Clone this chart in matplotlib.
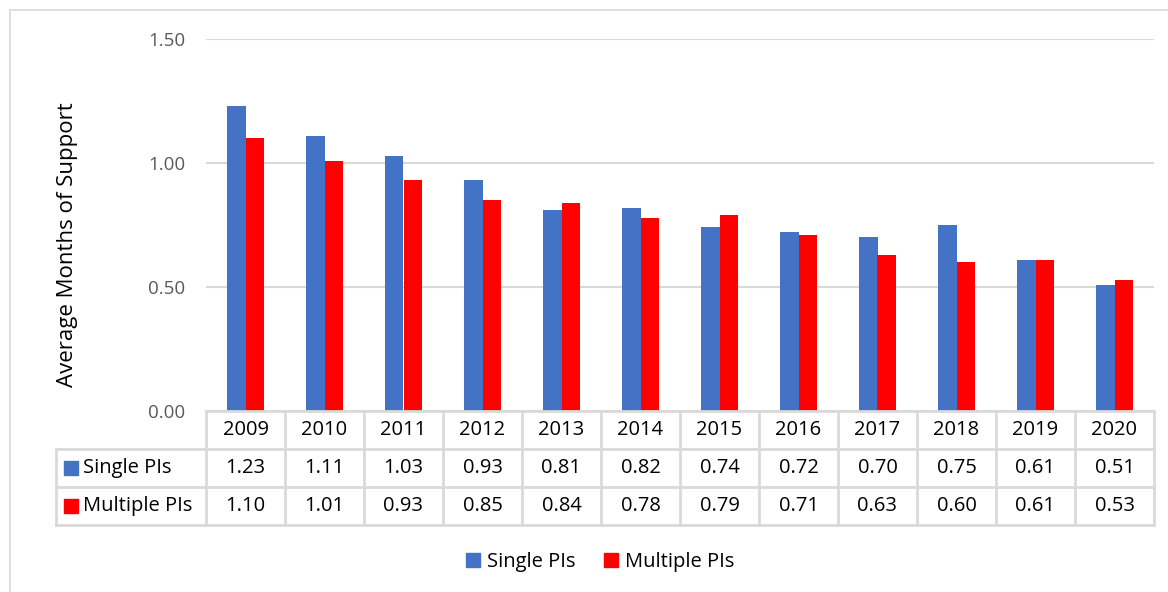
import matplotlib
matplotlib.use("Agg")
import matplotlib.pyplot as plt
from matplotlib.patches import Patch, Rectangle
from matplotlib.lines import Line2D

years = ["2009", "2010", "2011", "2012", "2013", "2014", "2015", "2016", "2017", "2018", "2019", "2020"]
single_pis = [1.23, 1.11, 1.03, 0.93, 0.81, 0.82, 0.74, 0.72, 0.70, 0.75, 0.61, 0.51]
multiple_pis = [1.10, 1.01, 0.93, 0.85, 0.84, 0.78, 0.79, 0.71, 0.63, 0.60, 0.61, 0.53]
series_names = ["Single PIs", "Multiple PIs"]
yticks = [0.0, 0.5, 1.0, 1.5]

BLUE = "#4472C4"
RED = "#FF0000"
GRID = "#D9D9D9"
FONT = ["Open Sans", "DejaVu Sans"]
plt.rcParams["font.family"] = FONT

W, H = 1168, 592
fig = plt.figure(figsize=(W / 100, H / 100), dpi=100)

def fx(px):
    return px / W

def fy(py):
    return 1 - py / H

# chart border
fig.add_artist(Rectangle((fx(10), fy(600)), fx(1200), fy(10) - fy(600),
                         transform=fig.transFigure, fill=False, edgecolor="#D9D9D9", lw=1.2))

L, R = 206, 1154
ax = fig.add_axes([fx(L), fy(411), fx(R) - fx(L), fy(39) - fy(411)])
n = len(years)
x = list(range(n))
bw = 0.24
ax.bar([i - bw / 2 for i in x], single_pis, width=bw, color=BLUE, zorder=3)
ax.bar([i + bw / 2 for i in x], multiple_pis, width=bw, color=RED, zorder=3)
ax.set_xlim(-0.5, n - 0.5)
ax.set_ylim(0, 1.5)
ax.set_yticks(yticks)
ax.set_yticklabels([f"{v:.2f}" for v in yticks], fontsize=13.5, color="#595959")
ax.tick_params(axis="y", length=0, pad=15)
ax.set_xticks([])
for s in ax.spines.values():
    s.set_visible(False)
ax.yaxis.grid(True, color=GRID, lw=1.5, zorder=0)
ax.set_axisbelow(True)

fig.text(fx(68), fy(245), "Average Months of Support", rotation=90,
         ha="center", va="center", fontsize=16, color="black")

# data table
tab = fig.add_axes([fx(L), fy(525), fx(R) - fx(L), fy(411) - fy(525)])
tab.set_xlim(-0.5, n - 0.5)
tab.set_ylim(0, 3)
tab.axis("off")
lab_left = -0.5 - (L - 56) / ((R - L) / n)
lc = "#D9D9D9"
lw = 2
# horizontal lines
tab.add_line(Line2D([-0.5, n - 0.5], [3, 3], color=lc, lw=lw, clip_on=False))
for yy in [0, 1, 2]:
    tab.add_line(Line2D([lab_left, n - 0.5], [yy, yy], color=lc, lw=lw, clip_on=False))
# vertical lines
for i in range(n + 1):
    tab.add_line(Line2D([i - 0.5, i - 0.5], [0, 3], color=lc, lw=lw, clip_on=False))
tab.add_line(Line2D([lab_left, lab_left], [0, 2], color=lc, lw=lw, clip_on=False))

fs = 14.5
for i, yr in enumerate(years):
    tab.text(i, 2.5, yr, ha="center", va="center", fontsize=fs, color="black")
    tab.text(i, 1.5, f"{single_pis[i]:.2f}", ha="center", va="center", fontsize=fs, color="black")
    tab.text(i, 0.5, f"{multiple_pis[i]:.2f}", ha="center", va="center", fontsize=fs, color="black")

colw = (R - L) / n
for row_y, name, col in [(1.5, series_names[0], BLUE), (0.5, series_names[1], RED)]:
    sq = 14 / colw
    tab.add_patch(Rectangle((lab_left + 8 / colw, row_y - 0.18), sq, 0.36,
                            color=col, clip_on=False))
    tab.text(lab_left + 27 / colw, row_y, name, ha="left", va="center",
             fontsize=fs, color="black", clip_on=False)

handles = [Patch(color=BLUE, label=series_names[0]), Patch(color=RED, label=series_names[1])]
fig.legend(handles=handles, loc="center", bbox_to_anchor=(fx(600), fy(562)), ncol=2,
           frameon=False, fontsize=14.5, handlelength=0.7, handleheight=0.7,
           handletextpad=0.35, columnspacing=1.4)

fig.savefig("out.png", dpi=100)
